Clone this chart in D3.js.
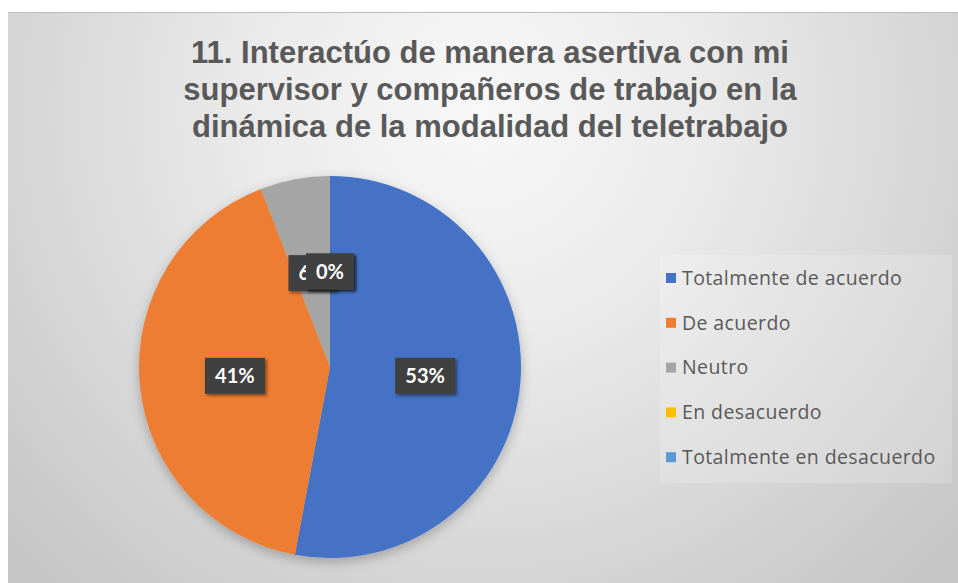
<!DOCTYPE html>
<html><head><meta charset="utf-8">
<script src="https://cdn.jsdelivr.net/npm/d3@7"></script>
<style>html,body{margin:0;padding:0;background:#fff;}svg{display:block;}</style>
</head><body>
<script>
const titleLines = ["11. Interactúo de manera asertiva con mi","supervisor y compañeros de trabajo en la","dinámica de la modalidad del teletrabajo"];
const categories = ["Totalmente de acuerdo","De acuerdo","Neutro","En desacuerdo","Totalmente en desacuerdo"];
const values = [9, 7, 1, 0, 0];
const colors = ["#4472C4","#ED7D31","#A5A5A5","#FFC000","#5B9BD5"];

const W = 958, H = 583;
const svg = d3.select("body").append("svg").attr("width", W).attr("height", H);
const defs = svg.append("defs");
const rg = defs.append("radialGradient").attr("id","bg").attr("gradientUnits","userSpaceOnUse")
  .attr("cx", 480).attr("cy", 110).attr("r", 640);
rg.append("stop").attr("offset","0%").attr("stop-color","#f8f8f8");
rg.append("stop").attr("offset","35%").attr("stop-color","#ebebeb");
rg.append("stop").attr("offset","100%").attr("stop-color","#c6c6c6");
const sh = defs.append("filter").attr("id","pieShadow").attr("x","-20%").attr("y","-20%").attr("width","140%").attr("height","140%");
sh.append("feDropShadow").attr("dx",0).attr("dy",4).attr("stdDeviation",6).attr("flood-color","#000").attr("flood-opacity",0.25);
const ls = defs.append("filter").attr("id","lblShadow").attr("x","-30%").attr("y","-30%").attr("width","160%").attr("height","160%");
ls.append("feDropShadow").attr("dx",2).attr("dy",2).attr("stdDeviation",1.5).attr("flood-color","#000").attr("flood-opacity",0.45);

svg.append("rect").attr("x",8).attr("y",12).attr("width",W-8).attr("height",H-12).attr("fill","url(#bg)");
svg.append("line").attr("x1",8).attr("x2",W).attr("y1",12.5).attr("y2",12.5).attr("stroke","#bdbdbd").attr("stroke-width",1);

// title
svg.append("g").selectAll("text").data(titleLines).join("text")
  .attr("x", 490).attr("y",(d,i)=>63+i*37)
  .attr("text-anchor","middle")
  .attr("font-family","Liberation Sans, Arial, sans-serif")
  .attr("font-weight","bold").attr("font-size",31).attr("fill","#595959")
  .text(d=>d);

// pie
const cx = 330, cy = 367, R = 191;
const pie = d3.pie().sort(null).value(d=>d)(values);
const arc = d3.arc().innerRadius(0).outerRadius(R);
const labelArc = d3.arc().innerRadius(R*0.5).outerRadius(R*0.5);
const g = svg.append("g").attr("transform",`translate(${cx},${cy})`);
g.append("g").attr("filter","url(#pieShadow)").selectAll("path").data(pie).join("path")
  .attr("d",arc).attr("fill",(d,i)=>colors[i]);

const total = d3.sum(values);
const fmt = v => Math.round(v/total*100) + "%";
const lg = g.append("g");
pie.forEach((d,i)=>{
  const c = labelArc.centroid(d);
  const t = fmt(values[i]);
  const bw = t.length===3 ? 60 : 48, bh = 36;
  const gi = lg.append("g").attr("transform",`translate(${c[0]},${c[1]})`);
  gi.append("rect").attr("x",-bw/2).attr("y",-bh/2).attr("width",bw).attr("height",bh)
    .attr("fill","#404040").attr("filter","url(#lblShadow)");
  gi.append("text").attr("text-anchor","middle").attr("dy","0.35em")
    .attr("font-family","Lato, Open Sans, sans-serif").attr("font-weight","bold")
    .attr("font-size",20).attr("fill","#ffffff").text(t);
});

// legend
svg.append("rect").attr("x",660).attr("y",255).attr("width",292).attr("height",228).attr("fill","#ffffff").attr("opacity",0.18);
const leg = svg.append("g").selectAll("g").data(categories).join("g")
  .attr("transform",(d,i)=>`translate(666,${278+i*44.8})`);
leg.append("rect").attr("x",0).attr("y",-5).attr("width",10).attr("height",10).attr("fill",(d,i)=>colors[i]);
leg.append("text").attr("x",16).attr("dy","0.35em")
  .attr("font-family","Open Sans, sans-serif").attr("font-size",19.5).attr("letter-spacing",0.4).attr("fill","#595959")
  .text(d=>d);
</script>
</body></html>
